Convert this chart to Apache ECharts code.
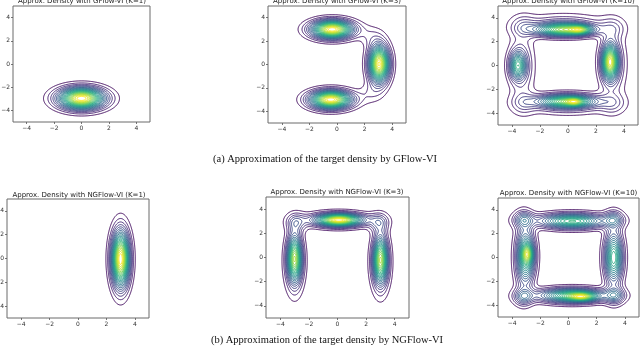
<!DOCTYPE html>
<html><head><meta charset="utf-8">
<script src="https://cdn.jsdelivr.net/npm/echarts@6/dist/echarts.min.js"></script>
<style>html,body{margin:0;padding:0;background:#fff}#c{width:640px;height:355px}</style>
</head><body><div id="c"></div>
<script>
// Density shapes: [centerX, centerY, spreadX, spreadY, weight]
const gflowK1 = [[0.0, -2.97, 1.1, 0.6, 1]];
const gflowK3 = [
  [-0.35, 3.0, 0.98, 0.5, 1],
  [-0.45, -3.0, 0.98, 0.5, 1],
  [3.05, 0.05, 0.48, 1.05, 1],
  [2.45, 2.4, 0.6, 0.6, 0.05],
  [2.45, -2.45, 0.6, 0.6, 0.05]
];
const gflowK10 = [
  [-0.3, 3.0, 1.3, 0.35, 1.0],
  [0.9, 3.0, 0.5, 0.25, 0.15],
  [-0.1, -3.0, 1.3, 0.35, 0.9],
  [0.5, -3.05, 0.4, 0.22, 0.08],
  [3.0, 0.3, 0.38, 0.95, 0.95],
  [-3.6, 0.0, 0.38, 0.75, 0.45],
  [-0.3, 3.4, 2.0, 0.6, 0.6],
  [0.0, -3.2, 2.0, 0.6, 0.6],
  [-3.3, 0.0, 0.6, 2.0, 0.55],
  [3.2, 0.1, 0.65, 2.0, 0.55],
  [-3.2, 3.3, 0.6, 0.6, 0.1],
  [-3.2, -3.2, 0.6, 0.6, 0.1],
  [3.2, 3.1, 0.6, 0.6, 0.1],
  [3.2, -3.2, 0.6, 0.6, 0.1]
];
const ngflowK1 = [[3.0, -0.05, 0.41, 1.53, 1]];
const ngflowK3 = [
  [0.1, 3.1, 1.05, 0.33, 1.0],
  [-3.0, -0.1, 0.33, 1.25, 1.0],
  [3.0, -0.2, 0.33, 1.25, 1.0],
  [-2.9, 2.9, 0.45, 0.5, 0.12],
  [2.9, 2.9, 0.45, 0.5, 0.12],
  [0.0, 3.1, 1.8, 0.5, 0.3],
  [-3.0, -0.6, 0.5, 1.9, 0.3],
  [3.0, -0.6, 0.5, 1.9, 0.3]
];
const ngflowK10 = [
  [0.3, 3.05, 1.4, 0.4, 1.0],
  [0.3, -3.2, 1.4, 0.38, 1.05],
  [1.0, -3.3, 0.6, 0.22, 0.18],
  [-3.0, 0.1, 0.42, 1.4, 1.05],
  [-2.9, 0.3, 0.25, 0.5, 0.15],
  [3.2, 0.0, 0.42, 1.3, 0.95],
  [-3.2, 3.2, 0.45, 0.45, 0.16],
  [3.2, 3.2, 0.45, 0.45, 0.16],
  [-3.2, -3.3, 0.45, 0.45, 0.16],
  [3.3, -3.2, 0.45, 0.45, 0.16],
  [0.0, 3.1, 2.2, 0.45, 0.45],
  [0.0, -3.2, 2.2, 0.45, 0.45],
  [-3.2, 0.0, 0.45, 2.2, 0.45],
  [3.2, 0.0, 0.45, 2.2, 0.45]
];
const panelTitles = [
  'Approx. Density with GFlow-VI (K=1)',
  'Approx. Density with GFlow-VI (K=3)',
  'Approx. Density with GFlow-VI (K=10)',
  'Approx. Density with NGFlow-VI (K=1)',
  'Approx. Density with NGFlow-VI (K=3)',
  'Approx. Density with NGFlow-VI (K=10)'
];
const captions = [
  '(a) Approximation of the target density by GFlow-VI',
  '(b) Approximation of the target density by NGFlow-VI'
];
const tickValues = [-4, -2, 0, 2, 4];
const axisMin = -5, axisMax = 5;
const levelCount = 24;

// ---- layout (pixels) ----
const panels = [
  {comps: gflowK1,  grid: {left: 13,  top: 6,   width: 137, height: 116}, tx: 82,    ty: 1},
  {comps: gflowK3,  grid: {left: 268, top: 6,   width: 138, height: 117}, tx: 337,   ty: 1},
  {comps: gflowK10, grid: {left: 498, top: 6,   width: 140, height: 119}, tx: 568.5, ty: 1},
  {comps: ngflowK1, grid: {left: 7,   top: 199, width: 142, height: 119}, tx: 79,    ty: 195},
  {comps: ngflowK3, grid: {left: 266, top: 197, width: 143, height: 121}, tx: 337,   ty: 192},
  {comps: ngflowK10,grid: {left: 498, top: 198, width: 141, height: 119}, tx: 568.5, ty: 193}
];

const viridisStops = ['#440154','#482475','#414487','#355f8d','#2a788e','#21918c','#22a884','#44bf70','#7ad151','#bddf26','#fde725'];
function hex2rgb(h){return [parseInt(h.slice(1,3),16),parseInt(h.slice(3,5),16),parseInt(h.slice(5,7),16)];}
function viridis(t){
  t = Math.max(0, Math.min(1, t));
  const f = t * (viridisStops.length - 1);
  const i = Math.min(Math.floor(f), viridisStops.length - 2);
  const u = f - i;
  const a = hex2rgb(viridisStops[i]), b = hex2rgb(viridisStops[i + 1]);
  return 'rgb(' + a.map((v, k) => Math.round(v + (b[k] - v) * u)).join(',') + ')';
}

function density(comps, x, y){
  let s = 0;
  for (const c of comps){
    const dx = (x - c[0]) / c[2], dy = (y - c[1]) / c[3];
    s += c[4] / (2 * Math.PI * c[2] * c[3]) * Math.exp(-0.5 * (dx * dx + dy * dy));
  }
  return s;
}

// marching squares -> polylines in data coordinates
function contourLines(comps){
  const n = 181;
  const step = (axisMax - axisMin) / (n - 1);
  const xs = [], ys = [];
  for (let i = 0; i < n; i++){ xs.push(axisMin + i * step); ys.push(axisMin + i * step); }
  const v = new Float64Array(n * n);
  let vmax = 0;
  for (let j = 0; j < n; j++) for (let i = 0; i < n; i++){
    const d = density(comps, xs[i], ys[j]);
    v[j * n + i] = d; if (d > vmax) vmax = d;
  }
  const table = {1:[[3,0]],2:[[0,1]],3:[[3,1]],4:[[1,2]],6:[[0,2]],7:[[3,2]],8:[[2,3]],9:[[0,2]],11:[[1,2]],12:[[1,3]],13:[[0,1]],14:[[3,0]]};
  const result = [];
  for (let k = 1; k < levelCount; k++){
    const L = vmax * k / levelCount;
    const color = viridis(k / (levelCount - 1));
    const pts = new Map();
    const segs = [];
    const edgePoint = (id) => {
      if (pts.has(id)) return;
      const cell = id >> 1, horiz = (id & 1) === 0;
      const i = cell % n, j = (cell - i) / n;
      const va = v[j * n + i];
      if (horiz){
        const vb = v[j * n + i + 1];
        const t = (L - va) / (vb - va);
        pts.set(id, [xs[i] + t * step, ys[j]]);
      } else {
        const vb = v[(j + 1) * n + i];
        const t = (L - va) / (vb - va);
        pts.set(id, [xs[i], ys[j] + t * step]);
      }
    };
    for (let j = 0; j < n - 1; j++){
      for (let i = 0; i < n - 1; i++){
        const a = v[j*n+i], b = v[j*n+i+1], c = v[(j+1)*n+i+1], d = v[(j+1)*n+i];
        const idx = (a > L ? 1 : 0) | (b > L ? 2 : 0) | (c > L ? 4 : 0) | (d > L ? 8 : 0);
        if (idx === 0 || idx === 15) continue;
        const e = [ (j*n+i)*2, (j*n+i+1)*2+1, ((j+1)*n+i)*2, (j*n+i)*2+1 ];
        let list = table[idx];
        if (idx === 5 || idx === 10){
          const center = (a + b + c + d) / 4 > L;
          if (idx === 5) list = center ? [[0,1],[2,3]] : [[3,0],[1,2]];
          else list = center ? [[3,0],[1,2]] : [[0,1],[2,3]];
        }
        for (const s of list){
          edgePoint(e[s[0]]); edgePoint(e[s[1]]);
          segs.push([e[s[0]], e[s[1]]]);
        }
      }
    }
    const adj = new Map();
    segs.forEach((s, si) => {
      for (const id of s){ if (!adj.has(id)) adj.set(id, []); adj.get(id).push(si); }
    });
    const used = new Uint8Array(segs.length);
    const extend = (chain) => {
      while (true){
        const last = chain[chain.length - 1];
        const cand = adj.get(last).find(si => !used[si]);
        if (cand === undefined) break;
        used[cand] = 1;
        const s = segs[cand];
        chain.push(s[0] === last ? s[1] : s[0]);
      }
    };
    for (let si = 0; si < segs.length; si++){
      if (used[si]) continue;
      used[si] = 1;
      let chain = [segs[si][0], segs[si][1]];
      extend(chain);
      chain.reverse();
      extend(chain);
      result.push({coords: chain.map(id => pts.get(id)), lineStyle: {color: color}});
    }
  }
  return result;
}

const fmt = v => (v < 0 ? '\u2212' : '') + Math.abs(v);
const grids = [], xAxes = [], yAxes = [], series = [], graphics = [];
panels.forEach((p, idx) => {
  grids.push(Object.assign({show: true, borderColor: '#6a6a6a', borderWidth: 1, backgroundColor: '#fff', containLabel: false, outerBoundsMode: 'none'}, p.grid));
  const axisCommon = {
    type: 'value', gridIndex: idx, min: axisMin, max: axisMax,
    axisLine: {show: false, onZero: false}, splitLine: {show: false},
    axisTick: {show: true, customValues: tickValues, length: 2, lineStyle: {color: '#555', width: 0.8}},
    axisLabel: {customValues: tickValues, fontSize: 6, color: '#333', margin: 3, formatter: fmt, fontFamily: 'DejaVu Sans'}
  };
  xAxes.push(Object.assign({position: 'bottom'}, axisCommon));
  yAxes.push(Object.assign({position: 'left'}, axisCommon));
  series.push({
    type: 'lines', coordinateSystem: 'cartesian2d', xAxisIndex: idx, yAxisIndex: idx,
    polyline: true, silent: true, animation: false, large: false, clip: true,
    lineStyle: {width: 1, opacity: 1},
    data: contourLines(p.comps)
  });
  graphics.push({type: 'text', x: p.tx, y: p.ty, silent: true,
    style: {text: panelTitles[idx], fill: '#222', fontSize: 7, fontFamily: 'DejaVu Sans', align: 'center', verticalAlign: 'middle'}});
});
graphics.push({type: 'text', x: 325, y: 159, style: {text: captions[0], fill: '#111', fontSize: 10.5, fontFamily: 'Liberation Serif', align: 'center', verticalAlign: 'middle'}});
graphics.push({type: 'text', x: 327, y: 340, style: {text: captions[1], fill: '#111', fontSize: 10.5, fontFamily: 'Liberation Serif', align: 'center', verticalAlign: 'middle'}});

const chart = echarts.init(document.getElementById('c'), null, {renderer: 'canvas'});
chart.setOption({
  animation: false,
  backgroundColor: '#fff',
  grid: grids, xAxis: xAxes, yAxis: yAxes, series: series, graphic: graphics
});
</script></body></html>
